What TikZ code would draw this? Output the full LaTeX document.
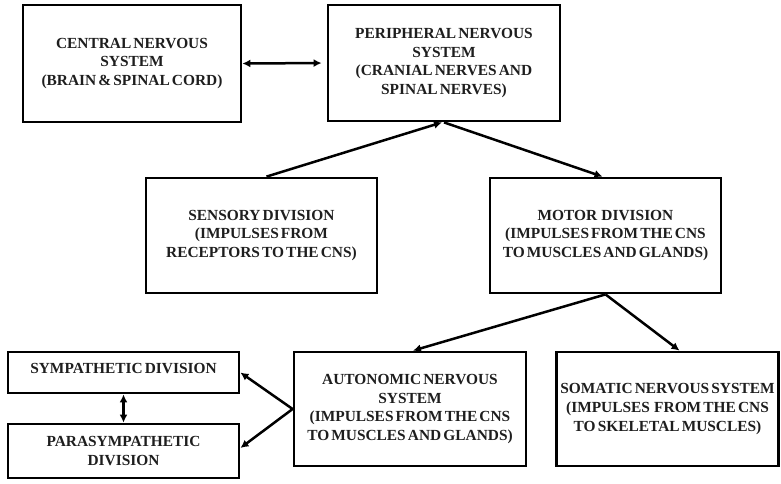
\documentclass[tikz,border=0pt]{standalone}
\usepackage{fontspec}
\setmainfont[WordSpace=0.55]{Liberation Serif}
\usetikzlibrary{arrows.meta,calc}
\definecolor{txt}{HTML}{1E1E1E}
\begin{document}
\begin{tikzpicture}[x=1pt,y=-1pt,
  box/.style={draw=black,line width=2.8pt,rectangle,inner sep=0pt,align=center,
    text=txt,font=\bfseries\fontsize{15.4}{18.8}\selectfont},
  conn/.style={line width=2.5pt,draw=black,-{Latex[length=8pt,width=8pt]}},
  dconn/.style={line width=2.5pt,draw=black,{Latex[length=8pt,width=8pt]}-{Latex[length=8pt,width=8pt]}}]
\useasboundingbox (0,0) rectangle (781,483);
\node[box,minimum width=218pt,minimum height=117pt] (cns) at (132,63.5) {CENTRAL NERVOUS\\SYSTEM\\(BRAIN \& SPINAL CORD)};
\node[box,minimum width=232pt,minimum height=116pt] (pns) at (444,63) {PERIPHERAL NERVOUS\\SYSTEM\\(CRANIAL NERVES AND\\SPINAL NERVES)};
\node[box,minimum width=231pt,minimum height=115pt] (sens) at (261.5,235.5) {SENSORY DIVISION\\(IMPULSES FROM\\RECEPTORS TO THE CNS)};
\node[box,minimum width=231pt,minimum height=115pt] (mot) at (605.5,235.5) {MOTOR\ \ DIVISION\\(IMPULSES FROM THE CNS\\TO MUSCLES AND GLANDS)};
\node[box,minimum width=231pt,minimum height=41pt] (sym) at (123.5,372.5) {\raisebox{8pt}{SYMPATHETIC DIVISION}};
\node[box,minimum width=231pt,minimum height=54pt] (para) at (123.5,451) {PARASYMPATHETIC\\DIVISION};
\node[box,minimum width=232pt,minimum height=114pt] (aut) at (410,409) {AUTONOMIC NERVOUS\\SYSTEM\\(IMPULSES FROM THE CNS\\TO MUSCLES AND GLANDS)};
\node[box,minimum width=222pt,minimum height=114pt] (som) at (667.5,409) {SOMATIC NERVOUS SYSTEM\\(IMPULSES\ \ FROM THE CNS\\TO SKELETAL MUSCLES)};
\draw[dconn,shorten >=5pt] (cns.east) -- (pns.west);
\draw[conn] ($(sens.north)+(5,0)$) -- ($(pns.south)+(-2,0)$);
\draw[conn] (pns.south) -- ($(mot.north)+(-3,0)$);
\draw[conn] (mot.south) -- ($(aut.north)+(3,0)$);
\draw[conn] (mot.south) -- ($(som.north)+(12,0)$);
\draw[conn] (aut.west) -- (sym.east);
\draw[conn] (aut.west) -- ($(para.east)+(0,-3)$);
\draw[dconn] (sym.south) -- (para.north);
\end{tikzpicture}
\end{document}
